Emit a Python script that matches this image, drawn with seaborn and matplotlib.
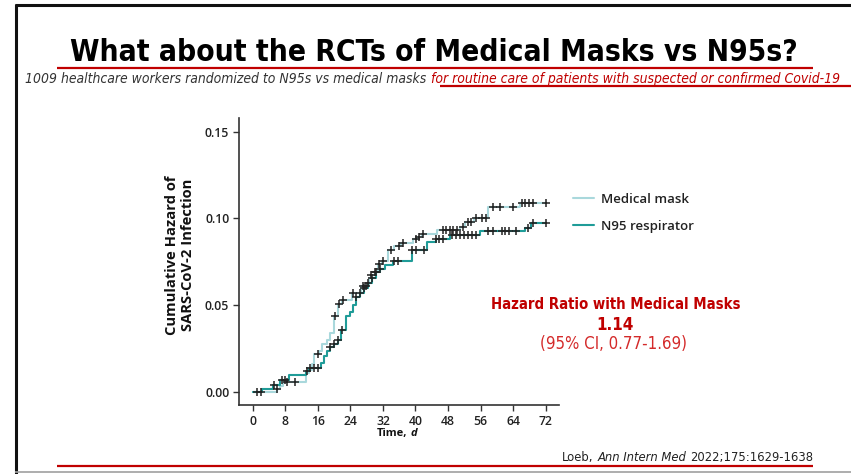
import numpy as np
import pandas as pd
import matplotlib
matplotlib.use("Agg")
import matplotlib.pyplot as plt
from matplotlib.lines import Line2D
from matplotlib import font_manager as fm
import seaborn as sns

# ---------------- data ----------------
med_times = [0, 6.0, 6.7, 7.5, 13.2, 13.8, 14.5, 15.0, 16.3, 17.0, 18.3, 19.0, 20.0, 21.0, 22.0,
             24.4, 26.7, 28.6, 29.0, 30.0, 30.8, 31.8, 33.2, 34.8, 36.5, 39.5, 40.7, 41.7, 45.3,
             50.9, 52.3, 54.3, 57.9, 65.7, 72.0]
med_haz = [0, 0.002, 0.0035, 0.006, 0.011, 0.013, 0.016, 0.022, 0.024, 0.028, 0.030, 0.034, 0.044, 0.051, 0.053,
           0.057, 0.061, 0.066, 0.0675, 0.069, 0.074, 0.0757, 0.082, 0.084, 0.086, 0.088, 0.0895, 0.091, 0.0934,
           0.0953, 0.0978, 0.1003, 0.1068, 0.109, 0.109]
med_censor = [1, 2, 6, 8.4, 10.4, 16, 20.1, 21.1, 22.1, 24.6, 27.0, 27.9, 29.0, 30.0, 31.0, 32.0, 33.9, 35.9,
              36.9, 40.1, 40.9, 41.9, 46.8, 47.6, 48.4, 49.3, 50.1, 51.8, 52.9, 53.7, 54.9, 56.3, 57.4, 59.1,
              60.7, 64.0, 66.1, 67.0, 67.9, 68.9, 72.0]

n95_times = [0, 2.2, 5.0, 6.8, 8.8, 13.2, 13.8, 16.8, 17.5, 18.3, 19.0, 20.0, 21.0, 21.8, 22.8, 23.8, 24.7,
             25.3, 26.3, 27.3, 28.3, 29.3, 30.3, 31.3, 32.5, 34.5, 39.1, 42.9, 45.0, 48.5, 55.9, 67.0, 68.5, 72.0]
n95_haz = [0, 0.002, 0.004, 0.007, 0.010, 0.012, 0.014, 0.017, 0.021, 0.024, 0.026, 0.028, 0.030, 0.036, 0.044,
           0.046, 0.050, 0.0546, 0.0569, 0.060, 0.063, 0.066, 0.069, 0.071, 0.073, 0.0755, 0.0819, 0.0863, 0.088,
           0.0905, 0.0926, 0.0948, 0.0972, 0.0972]
n95_censor = [5.1, 7.1, 7.9, 13.3, 14.1, 15.1, 16.1, 19.0, 20.0, 21.0, 22.0, 25.3, 26.3, 27.3, 28.3, 29.3, 30.3,
              31.3, 34.6, 35.6, 39.1, 40.1, 42.1, 45.0, 45.9, 46.8, 48.9, 49.9, 50.9, 51.9, 53.0, 54.0, 55.0,
              57.9, 59.1, 61.2, 62.0, 63.0, 64.7, 67.7, 68.8, 72.0]

groups = ["Medical mask", "N95 respirator"]
x_ticks = [0, 8, 16, 24, 32, 40, 48, 56, 64, 72]
y_ticks = [0.00, 0.05, 0.10, 0.15]

title = "What about the RCTs of Medical Masks vs N95s?"
sub_a = "1009 healthcare workers randomized to N95s vs medical masks"
sub_b = "for routine care of patients with suspected or confirmed Covid-19"
hr_lines = ["Hazard Ratio with Medical Masks", "1.14", "(95% CI, 0.77-1.69)"]
cite = ["Loeb,", "Ann Intern Med", "2022;175:1629-1638"]

# ---------------- style ----------------
sns.set_theme(style="white")
plt.rcParams["font.family"] = ["Open Sans", "DejaVu Sans"]


def find_condensed():
    for f in fm.fontManager.ttflist:
        st = f.stretch
        cond = (st < 500) if isinstance(st, int) else st in (
            "condensed", "semi-condensed", "extra-condensed", "ultra-condensed")
        if (cond or "Narrow" in f.name or "Condensed" in f.name) and "Mono" not in f.name \
                and "Serif" not in f.name:
            return f.name, st
    return "Roboto", "normal"


NARROW, STRETCH = find_condensed()
NFAM = [NARROW, "DejaVu Sans"]

W, H = 851, 474
fig = plt.figure(figsize=(W / 100, H / 100), dpi=100)
fig.patch.set_facecolor("white")
renderer = fig.canvas.get_renderer()


def fx(x):
    return x / W


def fy(y):
    return 1 - y / H


def fit(t, target_w):
    w = t.get_window_extent(renderer).width
    t.set_fontsize(t.get_fontsize() * target_w / w)
    return t


ax = fig.add_axes([fx(239), fy(405), fx(559) - fx(239), fy(118) - fy(405)])

colors = {"Medical mask": "#a9d8dc", "N95 respirator": "#1f9c98"}


def steps_df(times, haz, name):
    return pd.DataFrame({"t": times, "h": haz, "group": name})


df = pd.concat([steps_df(med_times, med_haz, groups[0]),
                steps_df(n95_times, n95_haz, groups[1])], ignore_index=True)

sns.lineplot(data=df, x="t", y="h", hue="group", palette=colors, estimator=None, sort=False,
             drawstyle="steps-post", linewidth=1.5, ax=ax, legend=True)


def censor_df(ctimes, times, haz, name):
    idx = np.searchsorted(np.array(times), np.array(ctimes), side="right") - 1
    return pd.DataFrame({"t": ctimes, "h": np.array(haz)[idx], "group": name})


cdf = pd.concat([censor_df(med_censor, med_times, med_haz, groups[0]),
                 censor_df(n95_censor, n95_times, n95_haz, groups[1])], ignore_index=True)
sns.scatterplot(data=cdf, x="t", y="h", marker="+", color="#222222", s=28, linewidth=1.1,
                ax=ax, legend=False, zorder=5)

ax.set_xlim(-3.4, 75.3)
ax.set_ylim(-0.0073, 0.1578)
ax.set_xticks(x_ticks)
ax.set_yticks(y_ticks)
ax.set_yticklabels([f"{v:.2f}" for v in y_ticks])
for s in ["top", "right"]:
    ax.spines[s].set_visible(False)
for s in ["left", "bottom"]:
    ax.spines[s].set_color("#333333")
    ax.spines[s].set_linewidth(1.2)
ax.tick_params(axis="both", which="both", direction="out", length=4, width=1, color="#333333",
               labelsize=8.8, labelcolor="#222222", pad=3, bottom=True, left=True)
for lab in ax.get_xticklabels() + ax.get_yticklabels():
    lab.set_fontweight("semibold")
ax.set_xlabel("")
ax.set_ylabel("")

leg = ax.legend(title=None, loc="upper left", bbox_to_anchor=(fx(561), fy(181)),
                bbox_transform=fig.transFigure, frameon=False, handlelength=1.6,
                labelspacing=1.05, handletextpad=0.55, fontsize=9.5)
for t in leg.get_texts():
    t.set_fontweight("semibold")
    t.set_color("#222222")

# y label
fig.text(fx(180), fy(255), "Cumulative Hazard of\nSARS-CoV-2 Infection", rotation=90,
         ha="center", va="center", fontsize=10.6, fontweight="bold", color="#111111",
         linespacing=1.12)

# x label: "Time, d"
t1 = fig.text(fx(377), fy(436), "Time,", ha="left", va="baseline", fontsize=8,
              fontweight="bold", color="#111111")
bb = t1.get_window_extent(renderer)
fig.text(fx(bb.x1 + 3), fy(436), "d", ha="left", va="baseline", fontsize=8,
         fontweight="bold", fontstyle="italic", color="#111111")

# title
tt = fig.text(fx(434), fy(61), title, ha="center", va="baseline", fontsize=26,
              fontweight="bold", color="black", family=NFAM, fontstretch=STRETCH)
fit(tt, 728)

# subtitle (two colours), fitted to span x=25..843
s1 = fig.text(fx(25), fy(83), sub_a, ha="left", va="baseline", fontsize=9.5,
              fontstyle="italic", color="#333333", family=NFAM, fontstretch=STRETCH)
s2 = fig.text(fx(25), fy(83), sub_b, ha="left", va="baseline", fontsize=9.5,
              fontstyle="italic", color="#c00000", family=NFAM, fontstretch=STRETCH)
w1 = s1.get_window_extent(renderer).width
w2 = s2.get_window_extent(renderer).width
scale = (843 - 25 - 5) / (w1 + w2)
s1.set_fontsize(9.5 * scale)
s2.set_fontsize(9.5 * scale)
bb = s1.get_window_extent(renderer)
s2.set_position((fx(bb.x1 + 5), fy(83)))

# hazard ratio block
h1 = fig.text(fx(616), fy(309), hr_lines[0], ha="center", va="baseline", fontsize=11,
              fontweight="bold", color="#c00000", family=NFAM, fontstretch=STRETCH)
fit(h1, 250)
h2 = fig.text(fx(615), fy(330), hr_lines[1], ha="center", va="baseline", fontsize=14,
              fontweight="bold", color="#c00000", family=NFAM, fontstretch=STRETCH)
fit(h2, 38)
h3 = fig.text(fx(614), fy(349), hr_lines[2], ha="center", va="baseline", fontsize=11,
              color="#d42a2a", family=NFAM, fontstretch=STRETCH)
fit(h3, 146)

# citation, fitted to span x=562..813
parts = []
styles = ["normal", "italic", "normal"]
for txt, st in zip(cite, styles):
    parts.append(fig.text(fx(562), fy(461), txt, ha="left", va="baseline", fontsize=9,
                          fontstyle=st, color="#222222", family=NFAM, fontstretch=STRETCH))
gap = 4
tot = sum(p.get_window_extent(renderer).width for p in parts) + 2 * gap
sc = (813 - 562) / tot
x = 562
for p in parts:
    p.set_fontsize(9 * sc)
    p.set_position((fx(x), fy(461)))
    x = p.get_window_extent(renderer).x1 + gap


# decorative rules
def hline(x0, x1, y, color, lw):
    fig.add_artist(Line2D([fx(x0), fx(x1)], [fy(y), fy(y)], color=color, linewidth=lw,
                          transform=fig.transFigure, solid_capstyle="butt"))


def vline(x, y0, y1, color, lw):
    fig.add_artist(Line2D([fx(x), fx(x)], [fy(y0), fy(y1)], color=color, linewidth=lw,
                          transform=fig.transFigure, solid_capstyle="butt"))


hline(15, 851, 5, "#111111", 2.2)
vline(16, 4, 474, "#111111", 2.2)
hline(57, 813, 68, "#c00000", 1.6)
hline(440, 851, 86, "#c00000", 1.6)
hline(57, 813, 466, "#c00000", 1.6)
hline(15, 851, 472, "#a0a0a0", 1.2)

fig.savefig("out.png", dpi=100, facecolor="white")
